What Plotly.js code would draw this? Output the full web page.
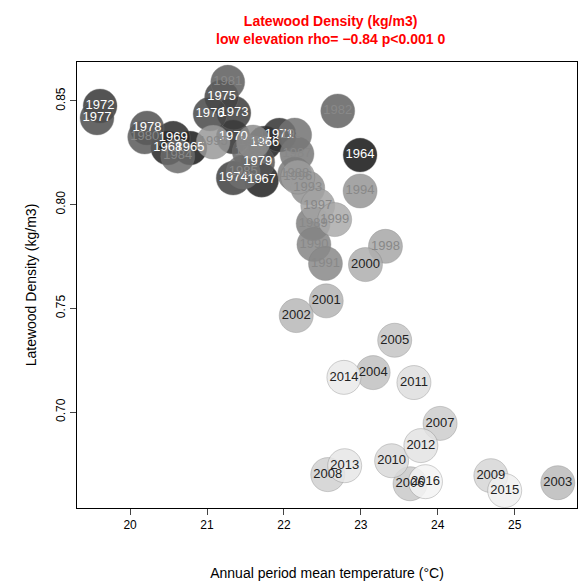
<!DOCTYPE html>
<html><head><script src="https://cdn.plot.ly/plotly-3.0.1.min.js"></script></head>
<body style="margin:0"><div id="chart" style="width:580px;height:583px"></div>
<script>
var years = [1964,1965,1966,1967,1968,1969,1970,1971,1972,1973,1974,1975,1976,1977,1978,1979,1980,1981,1982,1983,1984,
  1985,1986,1987,1988,1989,1990,1991,1992,1993,1994,1995,1996,1997,1998,1999,2000,
  2001,2002,2003,2004,2005,2006,2007,2008,2009,2010,2011,2012,2013,2014,2015,2016];
var temp = [22.99,20.78,21.75,21.71,20.49,20.56,21.34,21.94,19.61,21.35,21.34,21.19,21.04,19.57,20.22,21.66,20.19,21.27,22.70,21.55,20.62,
  21.47,22.14,22.17,22.14,22.38,22.39,22.54,21.60,22.31,22.99,21.08,22.18,22.44,23.32,22.66,23.06,
  22.55,22.16,25.56,23.16,23.44,23.64,24.03,22.57,24.69,23.40,23.69,23.78,22.79,22.78,24.87,23.84];
var density = [0.8239,0.8273,0.8297,0.8118,0.8273,0.8321,0.8326,0.8336,0.8476,0.8442,0.8128,0.8519,0.8437,0.8418,0.8370,0.8205,0.8326,0.8591,0.8452,0.8254,0.8234,
  0.8157,0.8336,0.8244,0.8147,0.7909,0.7808,0.7716,0.8302,0.8080,0.8066,0.8302,0.8133,0.7996,0.7799,0.7928,0.7711,
  0.7536,0.7465,0.6659,0.7190,0.7346,0.6654,0.6945,0.6698,0.6693,0.6765,0.7142,0.6838,0.6741,0.7167,0.6621,0.6664];

var textColors = years.map(function(y){ return y < 1980 ? 'white' : (y < 2000 ? '#888' : '#222'); });

var data = [{
  x: temp, y: density, text: years.map(String),
  mode: 'markers+text', type: 'scatter',
  textposition: 'middle center',
  textfont: {family: 'Liberation Sans, Arial', size: 13, color: textColors},
  marker: {size: 34, color: years, colorscale: [[0,'#151515'],[1,'#f4f4f4']], cmin: 1964, cmax: 2016,
    opacity: 0.85, line: {color: 'rgba(120,120,120,0.4)', width: 1}},
  hoverinfo: 'x+y+text'
}];

var layout = {
  width: 580, height: 583,
  margin: {l: 77, r: 3, t: 62, b: 75},
  showlegend: false,
  plot_bgcolor: 'white', paper_bgcolor: 'white',
  font: {family: 'Liberation Sans, Arial', size: 12, color: 'black'},
  title: {text: '<b>Latewood Density (kg/m3)<br>low elevation rho= \u22120.84 p<0.001 0</b>',
    font: {size: 14, color: 'red'}, x: 0.57, xanchor: 'center', yref: 'container', y: 0.955, yanchor: 'middle'},
  xaxis: {range: [19.31, 25.81], tickvals: [20,21,22,23,24,25], ticks: 'outside', ticklen: 6,
    showgrid: false, zeroline: false, showline: true, mirror: true, linecolor: 'black',
    title: {text: 'Annual period mean temperature (\u00b0C)', standoff: 36}},
  yaxis: {range: [0.6537, 0.8688], tickvals: [0.70,0.75,0.80,0.85], tickformat: '.2f', ticks: 'outside', ticklen: 6,
    tickangle: -90, showgrid: false, zeroline: false, showline: true, mirror: true, linecolor: 'black',
    title: {text: 'Latewood Density (kg/m3)', standoff: 14}}
};

Plotly.newPlot('chart', data, layout, {displayModeBar: false});
</script></body></html>
